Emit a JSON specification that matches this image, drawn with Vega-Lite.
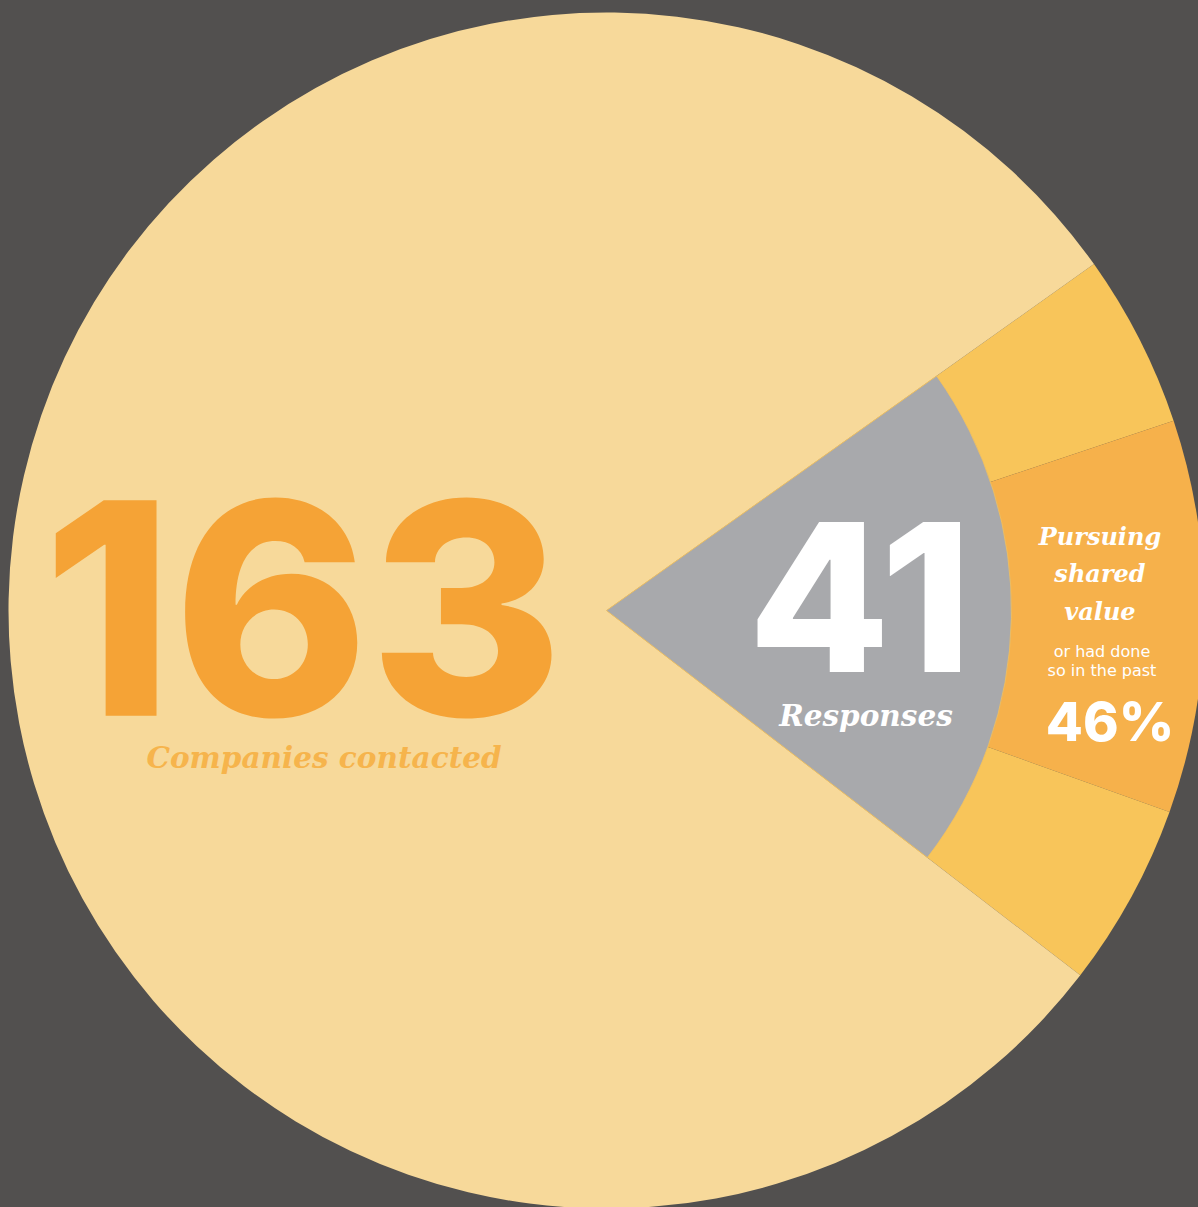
{
  "$schema": "https://vega.github.io/schema/vega-lite/v6.json",
  "autosize": "none",
  "width": 1183,
  "height": 1193,
  "padding": {"left": 15, "top": 14, "right": 0, "bottom": 0},
  "background": "#52504f",
  "config": {"view": {"stroke": null}},
  "datasets": {
    "contacted": [
      {"segment": "Responded, not pursuing (upper)", "angle": 16.9, "seq": 1, "count": "", "caption": "", "heading": "", "note": "", "share": ""},
      {"segment": "Pursuing shared value", "angle": 38.2, "seq": 2, "count": "", "caption": "", "heading": "Pursuing\nshared\nvalue", "note": "or had done\nso in the past", "share": "46%"},
      {"segment": "Responded, not pursuing (lower)", "angle": 17.9, "seq": 3, "count": "", "caption": "", "heading": "", "note": "", "share": ""},
      {"segment": "No response", "angle": 287.0, "seq": 4, "count": "163", "caption": "Companies contacted", "heading": "", "note": "", "share": ""}
    ],
    "responses": [
      {"part": "Responses", "angle": 73.0, "seq": 1, "count": "41", "caption": "Responses"},
      {"part": "No response", "angle": 287.0, "seq": 2, "count": "", "caption": ""}
    ]
  },
  "layer": [
    {
      "data": {"name": "contacted"},
      "mark": {"type": "arc", "outerRadius": 598},
      "encoding": {
        "theta": {"field": "angle", "type": "quantitative", "stack": true, "scale": {"domain": [0, 360], "range": [0.95295, 7.23614]}},
        "order": {"field": "seq", "type": "quantitative"},
        "color": {
          "field": "segment",
          "type": "nominal",
          "legend": null,
          "scale": {
            "domain": ["Responded, not pursuing (upper)", "Pursuing shared value", "Responded, not pursuing (lower)", "No response"],
            "range": ["#f8c55a", "#f6b14b", "#f8c55a", "#f7d99a"]
          }
        }
      }
    },
    {
      "data": {"name": "responses"},
      "mark": {"type": "arc", "outerRadius": 405, "color": "#a8a9ac", "stroke": "#f5c15a", "strokeWidth": 0.8},
      "encoding": {
        "theta": {"field": "angle", "type": "quantitative", "stack": true, "scale": {"domain": [0, 360], "range": [0.95295, 7.23614]}},
        "order": {"field": "seq", "type": "quantitative"},
        "detail": {"field": "part", "type": "nominal"},
        "opacity": {"condition": {"test": "datum.part === 'Responses'", "value": 1}, "value": 0}
      }
    },
    {
      "data": {"name": "contacted"},
      "mark": {"type": "text", "radius": 303.5, "dy": 111, "align": "center", "baseline": "alphabetic", "font": "Inter", "fontWeight": 800, "fontSize": 296, "color": "#f5a336"},
      "encoding": {
        "theta": {"field": "angle", "type": "quantitative", "stack": true, "scale": {"domain": [0, 360], "range": [0.95295, 7.23614]}},
        "order": {"field": "seq", "type": "quantitative"},
        "detail": {"field": "segment", "type": "nominal"},
        "text": {"field": "count"}
      }
    },
    {
      "data": {"name": "contacted"},
      "mark": {"type": "text", "radius": 303.5, "dx": 21, "dy": 163, "align": "center", "baseline": "alphabetic", "font": "DejaVu Serif", "fontStyle": "italic", "fontWeight": "bold", "fontSize": 29.5, "color": "#f6b44c"},
      "encoding": {
        "theta": {"field": "angle", "type": "quantitative", "stack": true, "scale": {"domain": [0, 360], "range": [0.95295, 7.23614]}},
        "order": {"field": "seq", "type": "quantitative"},
        "detail": {"field": "segment", "type": "nominal"},
        "text": {"field": "caption"}
      }
    },
    {
      "data": {"name": "contacted"},
      "mark": {"type": "text", "radius": 493.5, "dy": -71, "align": "center", "baseline": "alphabetic", "lineBreak": "\n", "lineHeight": 37.5, "font": "DejaVu Serif", "fontStyle": "italic", "fontWeight": "bold", "fontSize": 24, "color": "#ffffff"},
      "encoding": {
        "theta": {"field": "angle", "type": "quantitative", "stack": true, "scale": {"domain": [0, 360], "range": [0.95295, 7.23614]}},
        "order": {"field": "seq", "type": "quantitative"},
        "detail": {"field": "segment", "type": "nominal"},
        "text": {"field": "heading"}
      }
    },
    {
      "data": {"name": "contacted"},
      "mark": {"type": "text", "radius": 493.5, "dx": 2, "dy": 41, "align": "center", "baseline": "alphabetic", "lineBreak": "\n", "lineHeight": 19.5, "font": "DejaVu Sans", "fontSize": 16, "color": "#ffffff"},
      "encoding": {
        "theta": {"field": "angle", "type": "quantitative", "stack": true, "scale": {"domain": [0, 360], "range": [0.95295, 7.23614]}},
        "order": {"field": "seq", "type": "quantitative"},
        "detail": {"field": "segment", "type": "nominal"},
        "text": {"field": "note"}
      }
    },
    {
      "data": {"name": "contacted"},
      "mark": {"type": "text", "radius": 493.5, "dx": 10, "dy": 125, "align": "center", "baseline": "alphabetic", "font": "Inter", "fontWeight": 800, "fontSize": 54, "color": "#ffffff"},
      "encoding": {
        "theta": {"field": "angle", "type": "quantitative", "stack": true, "scale": {"domain": [0, 360], "range": [0.95295, 7.23614]}},
        "order": {"field": "seq", "type": "quantitative"},
        "detail": {"field": "segment", "type": "nominal"},
        "text": {"field": "share"}
      }
    },
    {
      "data": {"name": "responses"},
      "mark": {"type": "text", "radius": 253.5, "dy": 57, "align": "center", "baseline": "alphabetic", "font": "Inter", "fontWeight": 800, "fontSize": 206, "color": "#ffffff"},
      "encoding": {
        "theta": {"field": "angle", "type": "quantitative", "stack": true, "scale": {"domain": [0, 360], "range": [0.95295, 7.23614]}},
        "order": {"field": "seq", "type": "quantitative"},
        "detail": {"field": "part", "type": "nominal"},
        "text": {"field": "count"}
      }
    },
    {
      "data": {"name": "responses"},
      "mark": {"type": "text", "radius": 253.5, "dx": 6, "dy": 111, "align": "center", "baseline": "alphabetic", "font": "DejaVu Serif", "fontStyle": "italic", "fontWeight": "bold", "fontSize": 29.5, "color": "#ffffff"},
      "encoding": {
        "theta": {"field": "angle", "type": "quantitative", "stack": true, "scale": {"domain": [0, 360], "range": [0.95295, 7.23614]}},
        "order": {"field": "seq", "type": "quantitative"},
        "detail": {"field": "part", "type": "nominal"},
        "text": {"field": "caption"}
      }
    }
  ]
}
